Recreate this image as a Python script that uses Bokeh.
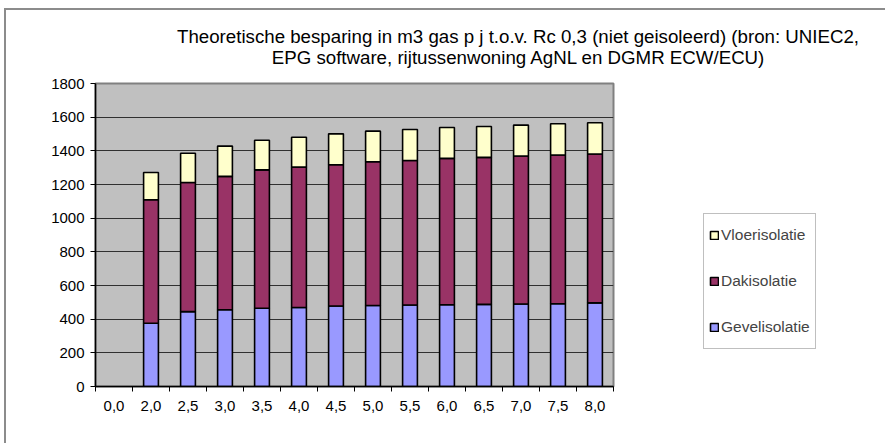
from bokeh.plotting import figure
from bokeh.layouts import column
from bokeh.models import (Range1d, FixedTicker, Legend, LegendItem, Div,
                          ColumnDataSource)
from bokeh.embed import file_html
from bokeh.resources import INLINE

# Rc values (m2K/W) and savings in m3 gas per year, per insulation type
categories = ["0,0", "2,0", "2,5", "3,0", "3,5", "4,0", "4,5",
              "5,0", "5,5", "6,0", "6,5", "7,0", "7,5", "8,0"]
gevel = [0, 376, 445, 456, 465, 469, 478, 481, 484, 486, 488, 490, 492, 497]
dak = [0, 733, 767, 792, 822, 834, 839, 854, 859, 869, 873, 879, 883, 884]
vloer = [0, 162, 174, 180, 176, 178, 184, 182, 184, 184, 184, 184, 186, 186]
series_names = ["Gevelisolatie", "Dakisolatie", "Vloerisolatie"]
series_colors = ["#9999FF", "#993366", "#FFFFCC"]
y_ticks = [0, 200, 400, 600, 800, 1000, 1200, 1400, 1600, 1800]
title_lines = ["Theoretische besparing in m3 gas p j t.o.v. Rc 0,3 (niet geisoleerd) (bron: UNIEC2,",
               "EPG software, rijtussenwoning AgNL en DGMR ECW/ECU)"]

FONT = "Liberation Sans"

n = len(categories)
centers = [i + 0.5 for i in range(n)]
# hide the outline of empty stacks
outline = [0.0 if g + d + v == 0 else 1.0 for g, d, v in zip(gevel, dak, vloer)]
src = ColumnDataSource(dict(x=centers, gevel=gevel, dak=dak, vloer=vloer, la=outline))

p = figure(frame_width=518, frame_height=303, output_backend="svg", toolbar_location=None,
           x_range=Range1d(0, n), y_range=Range1d(0, 1800),
           min_border_left=89, min_border_right=10,
           min_border_top=13, min_border_bottom=57,
           background_fill_color="#C0C0C0", border_fill_color="white", margin=0)

p.outline_line_color = "#808080"
p.outline_line_width = 2

renderers = p.vbar_stack(["gevel", "dak", "vloer"], x="x", width=0.4, source=src,
                         fill_color=series_colors, line_color="black",
                         line_width=1.6, line_alpha="la")

# swatches for the legend (no data of their own)
swatch_src = ColumnDataSource(dict(l=[float("nan")], r=[float("nan")],
                                   b=[float("nan")], t=[float("nan")]))
swatches = [p.quad(left="l", right="r", bottom="b", top="t", source=swatch_src,
                   fill_color=c, line_color="black", line_width=1.6)
            for c in series_colors]

# axes: labels under each category, ticks on the category boundaries
p.xaxis.ticker = FixedTicker(ticks=centers, minor_ticks=list(range(n + 1)))
p.xaxis.major_label_overrides = {c: lab for c, lab in zip(centers, categories)}
p.xaxis.major_tick_out = 0
p.xaxis.major_tick_in = 0
p.xaxis.minor_tick_out = 5
p.xaxis.minor_tick_in = 0
p.xaxis.minor_tick_line_color = "black"
p.yaxis.ticker = FixedTicker(ticks=y_ticks)
p.yaxis.major_tick_out = 5
p.yaxis.major_tick_in = 0
p.yaxis.minor_tick_line_color = None
for ax in (p.xaxis, p.yaxis):
    ax.axis_line_color = "black"
    ax.axis_line_width = 1.5
    ax.major_tick_line_color = "black"
    ax.major_label_text_font = FONT
    ax.major_label_text_font_size = "15px"
    ax.major_label_text_color = "black"
p.xaxis.major_label_standoff = 9
p.yaxis.major_label_standoff = 6

p.xgrid.grid_line_color = None
p.ygrid.ticker = FixedTicker(ticks=y_ticks[1:-1])
p.ygrid.grid_line_color = "#303030"
p.ygrid.grid_line_width = 1

# legend, top to bottom: Vloer, Dak, Gevel
items = [LegendItem(label=series_names[i], renderers=[swatches[i]]) for i in (2, 1, 0)]
legend = Legend(items=items, location=(90, 37), orientation="vertical",
                glyph_width=10, glyph_height=10, label_height=32, spacing=14,
                padding=5, margin=0, label_standoff=2,
                label_text_font=FONT, label_text_font_size="15.5px",
                border_line_color="#808080", border_line_width=1.5,
                background_fill_color="white", background_fill_alpha=1)
p.add_layout(legend, "right")

title = Div(
    text="<div style=\"padding-top:16px; text-align:center; font-family:'Liberation Sans', Arial, sans-serif;"
         " font-size:18.7px; line-height:21px; color:black; white-space:nowrap;\">"
         + "<br>".join(title_lines) + "</div>",
    width=700, height=60, margin=(0, 0, 0, 171))

chart = column(title, p, margin=(8, 0, 0, 4), spacing=0,
               styles={"border-left": "2px solid #8c8c8c", "border-top": "2px solid #8c8c8c",
                       "background-color": "white"})

open("out.html", "w").write(file_html(chart, INLINE))
